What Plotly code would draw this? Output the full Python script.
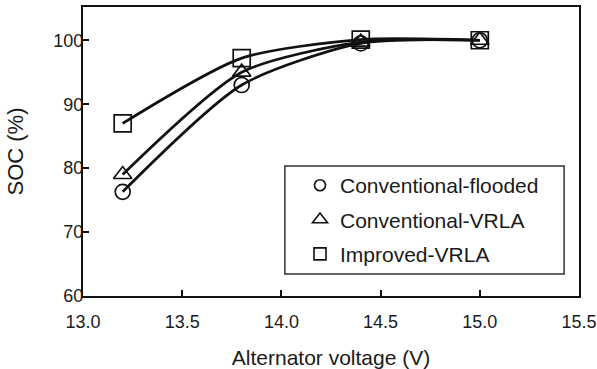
import plotly.graph_objects as go

voltage = [13.2, 13.8, 14.4, 15.0]
soc_flooded = [76.3, 93.0, 99.5, 100.0]
soc_conv_vrla = [79.0, 95.0, 99.7, 100.0]
soc_improved = [87.0, 97.2, 100.1, 100.0]

names = ["Conventional-flooded", "Conventional-VRLA", "Improved-VRLA"]
series = [soc_flooded, soc_conv_vrla, soc_improved]
symbols = ["circle-open", "triangle-up-open", "square-open"]
sizes = [15, 16, 17]
legend_sizes = [11, 13, 12]

x_ticks = [13.0, 13.5, 14.0, 14.5, 15.0, 15.5]
y_ticks = [60, 70, 80, 90, 100]

FONT = "Liberation Sans, Arial, sans-serif"
INK = "#111111"
TXT = "#1a1a1a"

fig = go.Figure()
for name, ys in zip(names, series):
    fig.add_trace(go.Scatter(x=voltage, y=ys, mode="lines",
                             line=dict(color=INK, width=2.7, shape="spline", smoothing=0.7),
                             showlegend=False, hoverinfo="skip"))
for name, ys, sym, sz in zip(names, series, symbols, sizes):
    fig.add_trace(go.Scatter(x=voltage, y=ys, mode="markers", name=name, showlegend=False,
                             marker=dict(symbol=sym, size=sz, color=INK, line=dict(width=1.7, color=INK))))
for i, (name, sym, sz) in enumerate(zip(names, symbols, legend_sizes)):
    fig.add_trace(go.Scatter(x=[None], y=[None], mode="markers", name=name, legendgroup=f"g{i}",
                             marker=dict(symbol=sym, size=sz, color=INK, line=dict(width=1.6, color=INK))))

fig.update_layout(
    width=597, height=369,
    margin=dict(l=83, r=18, t=7, b=73),
    paper_bgcolor="white", plot_bgcolor="white",
    font=dict(family=FONT, size=18, color=TXT),
    showlegend=True,
    legend=dict(x=0.4375, y=0.453, xanchor="left", yanchor="top",
                bgcolor="rgba(0,0,0,0)", borderwidth=0,
                font=dict(family=FONT, size=21, color=TXT),
                itemwidth=30, tracegroupgap=4, traceorder="grouped"),
    shapes=[dict(type="rect", xref="paper", yref="paper", x0=0.407, x1=0.970, y0=0.076, y1=0.450,
                 line=dict(color="#333333", width=1.5), fillcolor="white", layer="below")],
)
fig.update_xaxes(range=[13.0, 15.5], tickvals=x_ticks, ticktext=[f"{v:.1f}" for v in x_ticks],
                 ticks="inside", ticklen=6, tickwidth=1.5, tickcolor=INK, automargin=False,
                 ticklabelstandoff=8,
                 showline=True, linecolor=INK, linewidth=2, mirror=True, showgrid=False, zeroline=False,
                 title=dict(text="Alternator voltage (V)", font=dict(size=21), standoff=21),
                 tickfont=dict(size=18))
fig.update_yaxes(range=[60, 105.2], tickvals=y_ticks, ticks="inside", ticklen=6, tickwidth=1.5, tickcolor=INK,
                 automargin=False, ticklabelstandoff=-6,
                 showline=True, linecolor=INK, linewidth=2, mirror=True, showgrid=False, zeroline=False,
                 title=dict(text="SOC (%)", font=dict(size=22), standoff=24),
                 tickfont=dict(size=18))

fig.write_html("out.html", config={"displayModeBar": False},
               post_script="document.body.style.margin='0';")
